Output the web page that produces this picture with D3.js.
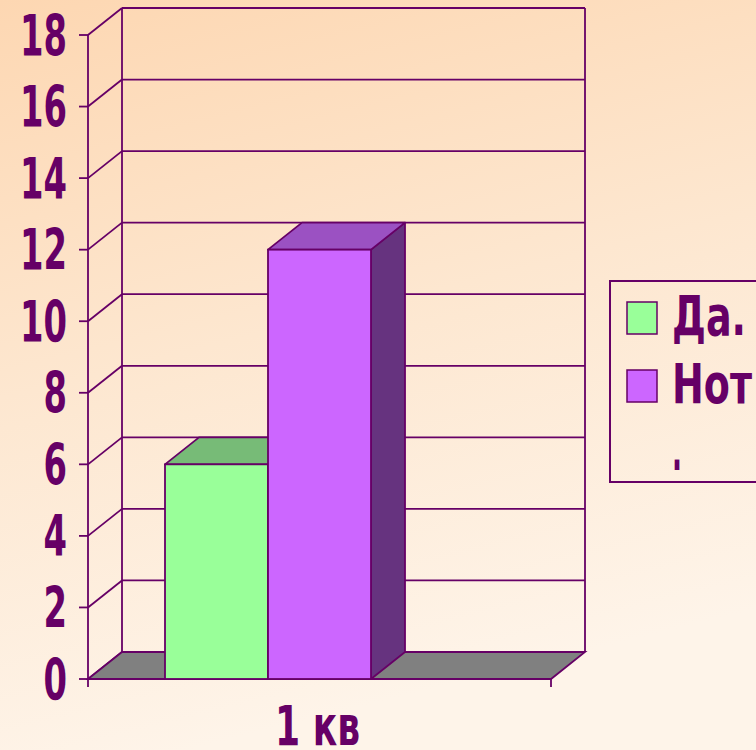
<!DOCTYPE html>
<html><head><meta charset="utf-8">
<script src="https://cdn.jsdelivr.net/npm/d3@7"></script>
<style>
html,body{margin:0;padding:0;overflow:hidden;}
svg{display:block;}
text{font-family:"DejaVu Sans",sans-serif;font-weight:bold;fill:#660066;}
</style></head>
<body>
<svg id="c" width="756" height="750"></svg>
<script>
const categories = ["1 кв"];
const seriesNames = ["Да.", "Нот."];
const seriesValues = [[6], [12]];
const yTicks = [0, 2, 4, 6, 8, 10, 12, 14, 16, 18];

const W = 756, H = 750;
const ink = "#660066";
const depth = {dx: 34, dy: -27};
const frontColors = ["#99ff99", "#cc66ff"];
const topColors = ["#77bb77", "#9b51c2"];
const sideColors = ["#5f9960", "#66337f"];

const svg = d3.select("#c");
const defs = svg.append("defs");
const grad = defs.append("linearGradient").attr("id", "bg").attr("x1", 0).attr("y1", 0).attr("x2", 0.25).attr("y2", 1);
grad.append("stop").attr("offset", 0).attr("stop-color", "#fdd7b2");
grad.append("stop").attr("offset", 0.5).attr("stop-color", "#fde7d0");
grad.append("stop").attr("offset", 1).attr("stop-color", "#fef4e9");
svg.append("rect").attr("width", W).attr("height", H).attr("fill", "url(#bg)");

const y = d3.scaleLinear().domain([0, 18]).range([679, 35]);
const x0 = d3.scaleBand().domain(categories).range([88, 551]).padding(0);
const x1 = d3.scaleBand().domain(seriesNames).range([77, 283]).padding(0);

const fx = x0.range()[0], rx = x0.range()[1];
const g = svg.append("g");
const sw = 1.8;

yTicks.forEach(v => {
  g.append("line").attr("x1", fx + depth.dx).attr("x2", rx + depth.dx)
    .attr("y1", y(v) + depth.dy).attr("y2", y(v) + depth.dy)
    .attr("stroke", ink).attr("stroke-width", sw);
  g.append("line").attr("x1", fx).attr("x2", fx + depth.dx)
    .attr("y1", y(v)).attr("y2", y(v) + depth.dy)
    .attr("stroke", ink).attr("stroke-width", sw);
});
[fx + depth.dx, rx + depth.dx].forEach(xx => {
  g.append("line").attr("x1", xx).attr("x2", xx)
    .attr("y1", y(18) + depth.dy).attr("y2", y(0) + depth.dy)
    .attr("stroke", ink).attr("stroke-width", sw);
});
g.append("polygon")
  .attr("points", [[fx, y(0)], [rx, y(0)], [rx + depth.dx, y(0) + depth.dy], [fx + depth.dx, y(0) + depth.dy]].map(p => p.join(",")).join(" "))
  .attr("fill", "#808080").attr("stroke", ink).attr("stroke-width", sw);

g.append("line").attr("x1", fx).attr("x2", fx).attr("y1", y(18)).attr("y2", y(0))
  .attr("stroke", ink).attr("stroke-width", sw);
yTicks.forEach(v => {
  g.append("line").attr("x1", fx - 9).attr("x2", fx).attr("y1", y(v)).attr("y2", y(v))
    .attr("stroke", ink).attr("stroke-width", sw);
  const s = String(v);
  g.append("text").attr("x", 67).attr("y", y(v)).attr("dy", "0.36em")
    .attr("text-anchor", "end").attr("font-size", 57)
    .attr("textLength", s.length * 23.5).attr("lengthAdjust", "spacingAndGlyphs").text(s);
});
g.append("line").attr("x1", fx).attr("x2", rx).attr("y1", y(0)).attr("y2", y(0))
  .attr("stroke", ink).attr("stroke-width", sw);
[fx, rx].forEach(xx => g.append("line").attr("x1", xx).attr("x2", xx)
  .attr("y1", y(0)).attr("y2", y(0) + 8).attr("stroke", ink).attr("stroke-width", sw));

categories.forEach((cat, ci) => {
  seriesNames.forEach((s, si) => {
    const v = seriesValues[si][ci];
    const xl = x0(cat) + x1(s), xr = xl + x1.bandwidth();
    const yt = y(v), yb = y(0);
    const pts = a => a.map(p => p.join(",")).join(" ");
    g.append("polygon").attr("points", pts([[xr, yt], [xr + depth.dx, yt + depth.dy], [xr + depth.dx, yb + depth.dy], [xr, yb]]))
      .attr("fill", sideColors[si]).attr("stroke", ink).attr("stroke-width", sw).attr("stroke-linejoin", "round");
    g.append("polygon").attr("points", pts([[xl, yt], [xr, yt], [xr + depth.dx, yt + depth.dy], [xl + depth.dx, yt + depth.dy]]))
      .attr("fill", topColors[si]).attr("stroke", ink).attr("stroke-width", sw).attr("stroke-linejoin", "round");
    g.append("rect").attr("x", xl).attr("y", yt).attr("width", xr - xl).attr("height", yb - yt)
      .attr("fill", frontColors[si]).attr("stroke", ink).attr("stroke-width", sw);
  });
  g.append("text").attr("x", 275).attr("y", 745)
    .attr("font-size", 56).attr("textLength", 85).attr("lengthAdjust", "spacingAndGlyphs").text(cat);
});

const lg = svg.append("g");
lg.append("rect").attr("x", 610).attr("y", 281).attr("width", 160).attr("height", 201)
  .attr("fill", "none").attr("stroke", ink).attr("stroke-width", 2);
const rowY = [318, 386];
const legendLen = [74, 80];
seriesNames.forEach((s, i) => {
  lg.append("rect").attr("x", 627).attr("y", rowY[i] - 16).attr("width", 30).attr("height", 32)
    .attr("fill", frontColors[i]).attr("stroke", ink).attr("stroke-width", 1.5);
  const first = s.length > 3 ? s.slice(0, 3) : s;
  lg.append("text").attr("x", 672).attr("y", rowY[i] + 17).attr("font-size", 56)
    .attr("textLength", legendLen[i]).attr("lengthAdjust", "spacingAndGlyphs").text(first);
  if (s.length > 3) {
    lg.append("text").attr("x", 672).attr("y", rowY[i] + 84).attr("font-size", 56)
      .attr("textLength", 10).attr("lengthAdjust", "spacingAndGlyphs").text(s.slice(3));
  }
});
</script>
</body></html>
